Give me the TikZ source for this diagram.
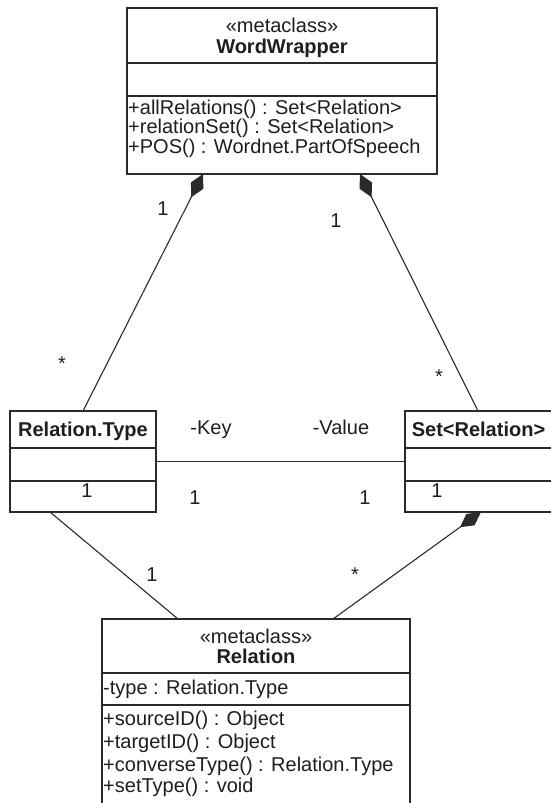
\documentclass[tikz,border=0pt]{standalone}
\usepackage{fontspec}
\setmainfont{Liberation Sans}
\usetikzlibrary{arrows.meta,calc}

\definecolor{umlline}{HTML}{2B2B2B}
\definecolor{umltext}{HTML}{1E1E1E}

\tikzset{
  classbox/.style={draw=umlline, line width=1.6pt, rectangle, inner sep=0pt,
    outer sep=0pt, fill=white, anchor=north west},
  divider/.style={draw=umlline, line width=1.6pt},
  assoc/.style={draw=umlline, line width=1.1pt},
  composite/.style={assoc, {Diamond[length=26pt,width=14pt]}-},
  umlfont/.style={font=\fontsize{20}{22}\selectfont, text=umltext, inner sep=0pt},
  stereo/.style={umlfont, anchor=base},
  classname/.style={umlfont, font=\fontsize{20}{22}\selectfont\bfseries, anchor=base},
  member/.style={umlfont, anchor=base west},
  mult/.style={umlfont, anchor=base},
}

\begin{document}
\begin{tikzpicture}[x=1pt, y=-1pt]
\useasboundingbox (0,0) rectangle (551,803);
\clip (0,0) rectangle (551,803);
\fill[white] (0,0) rectangle (551,803);

% ---- class boxes ----
\node[classbox, minimum width=310pt, minimum height=166pt] (ww) at (127,8) {};
\node[classbox, minimum width=146pt, minimum height=101pt] (rt) at (10,411) {};
\node[classbox, minimum width=147pt, minimum height=101pt] (sr) at (405,411) {};
\node[classbox, minimum width=308pt, minimum height=200pt] (rel) at (102,619) {};

% compartment dividers
\draw[divider] ($(ww.north west)+(0,55)$) -- ($(ww.north east)+(0,55)$);
\draw[divider] ($(ww.north west)+(0,88)$) -- ($(ww.north east)+(0,88)$);
\draw[divider] ($(rt.north west)+(0,37)$) -- ($(rt.north east)+(0,37)$);
\draw[divider] ($(rt.north west)+(0,70)$) -- ($(rt.north east)+(0,70)$);
\draw[divider] ($(sr.north west)+(0,37)$) -- ($(sr.north east)+(0,37)$);
\draw[divider] ($(sr.north west)+(0,70)$) -- ($(sr.north east)+(0,70)$);
\draw[divider] ($(rel.north west)+(0,54)$) -- ($(rel.north east)+(0,54)$);
\draw[divider] ($(rel.north west)+(0,86)$) -- ($(rel.north east)+(0,86)$);

% ---- WordWrapper ----
\node[stereo] (wwst) at ($(ww.north)+(0,24)$) {«metaclass»};
\node[classname] (wwname) at ($(ww.north)+(0,45)$) {WordWrapper};
\node[member] (wwm1) at ($(ww.north west)+(1,106)$) {+allRelations() : Set<Relation>};
\node[member] (wwm2) at ($(ww.north west)+(1,125.5)$) {+relationSet() : Set<Relation>};
\node[member] (wwm3) at ($(ww.north west)+(1,145)$) {+POS() : Wordnet.PartOfSpeech};

% ---- Relation.Type and Set<Relation> ----
\node[classname] (rtname) at ($(rt.north)+(0,25)$) {Relation.Type};
\node[mult] (rtone) at (87,497) {1};
\node[classname] (srname) at ($(sr.north)+(0,25)$) {Set<Relation>};
\node[mult] (srone) at (437,497) {1};

% ---- Relation ----
\node[stereo] (relst) at ($(rel.north)+(0,24)$) {«metaclass»};
\node[classname] (relname) at ($(rel.north)+(0,44)$) {Relation};
\node[member] (rela1) at ($(rel.north west)+(1,75)$) {-type : Relation.Type};
\node[member] (relm1) at ($(rel.north west)+(1,106)$) {+sourceID() : Object};
\node[member] (relm2) at ($(rel.north west)+(1,129)$) {+targetID() : Object};
\node[member] (relm3) at ($(rel.north west)+(1,152)$) {+converseType() : Relation.Type};
\node[member] (relm4) at ($(rel.north west)+(1,173)$) {+setType() : void};

% ---- associations ----
\draw[composite] ($(ww.south west)+(76,0)$) -- ($(rt.north west)+(73,0)$);
\draw[composite] ($(ww.south west)+(233,0)$) -- ($(sr.north west)+(73,0)$);
\draw[composite] ($(sr.south west)+(76,0)$) -- ($(rel.north west)+(231,0)$);
\draw[assoc] ($(rt.south west)+(40,0)$) -- ($(rel.north west)+(76,0)$);
\draw[assoc] (rt.east) -- (sr.west);

% ---- role names and multiplicities ----
\node[mult] (m1) at (163,215) {1};
\node[mult] (m2) at (336,227) {1};
\node[mult] (m3) at (62,370) {*};
\node[mult] (m4) at (439,383) {*};
\node[mult] (rkey) at (211,434) {-Key};
\node[mult] (rval) at (341,434) {-Value};
\node[mult] (m5) at (195,504) {1};
\node[mult] (m6) at (365,504) {1};
\node[mult] (m7) at (152,581) {1};
\node[mult] (m8) at (355,581) {*};
\end{tikzpicture}
\end{document}
